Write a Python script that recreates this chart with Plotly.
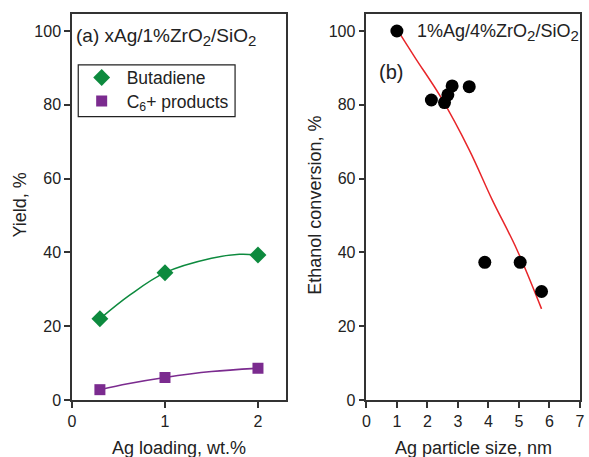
import plotly.graph_objects as go
from plotly.subplots import make_subplots

# (a) yields vs Ag loading
ag_loading = [0.3, 1.0, 2.0]
butadiene = [22.0, 34.5, 39.3]
c6_products = [2.8, 6.1, 8.6]

# smooth guide curves
butadiene_fit_x = [0.3, 0.62, 1.0, 1.5, 1.8, 2.0]
butadiene_fit_y = [22.0, 28.4, 34.5, 38.4, 39.5, 39.3]
c6_fit_x = [0.3, 0.6, 1.0, 1.5, 2.0]
c6_fit_y = [2.8, 4.4, 6.1, 7.7, 8.6]

# (b) conversion vs Ag particle size
particle_size = [1.0, 2.13, 2.56, 2.67, 2.81, 3.37, 3.88, 5.04, 5.74]
conversion = [100.0, 81.3, 80.6, 82.7, 85.1, 84.9, 37.3, 37.3, 29.4]
conv_fit_x = [1.0, 1.61, 2.43, 3.37, 4.12, 4.93, 5.74]
conv_fit_y = [100.5, 92.6, 82.2, 67.8, 54.3, 40.8, 24.7]

GREEN = "#0d8a3e"
PURPLE = "#7b2b8f"
RED = "#e8262a"
FONT = "Arial, Liberation Sans, sans-serif"
SUB = "<sub><span style='font-size:15px'>%s</span></sub>"

fig = make_subplots(rows=1, cols=2)

fig.add_trace(go.Scatter(x=butadiene_fit_x, y=butadiene_fit_y, mode="lines",
                         line=dict(color=GREEN, width=1.5, shape="spline"),
                         showlegend=False, hoverinfo="skip"), 1, 1)
fig.add_trace(go.Scatter(x=c6_fit_x, y=c6_fit_y, mode="lines",
                         line=dict(color=PURPLE, width=1.5, shape="spline"),
                         showlegend=False, hoverinfo="skip"), 1, 1)
fig.add_trace(go.Scatter(x=ag_loading, y=butadiene, mode="markers", name="Butadiene",
                         marker=dict(symbol="diamond", size=13, color=GREEN),
                         legend="legend"), 1, 1)
fig.add_trace(go.Scatter(x=ag_loading, y=c6_products, mode="markers",
                         name="C<sub>6</sub>+ products",
                         marker=dict(symbol="square", size=11, color=PURPLE),
                         legend="legend2"), 1, 1)

fig.add_trace(go.Scatter(x=conv_fit_x, y=conv_fit_y, mode="lines",
                         line=dict(color=RED, width=1.5, shape="spline"),
                         showlegend=False, hoverinfo="skip"), 1, 2)
fig.add_trace(go.Scatter(x=particle_size, y=conversion, mode="markers",
                         marker=dict(size=13, color="black"), showlegend=False), 1, 2)

axis_common = dict(showline=True, linecolor="#333", linewidth=1.5, mirror=True,
                   ticks="outside", ticklen=6, tickwidth=1.5, tickcolor="#333",
                   showgrid=False, zeroline=False,
                   tickfont=dict(family=FONT, size=16, color="#222"))

fig.update_xaxes(axis_common)
fig.update_yaxes(axis_common)
fig.update_xaxes(domain=[0, 0.421], range=[0, 2.3], tickvals=[0, 1, 2], row=1, col=1)
fig.update_xaxes(domain=[0.5795, 1], range=[0, 7], dtick=1, row=1, col=2)
fig.update_yaxes(range=[0, 104.6], dtick=20, row=1, col=1)
fig.update_yaxes(range=[0, 104.6], dtick=20, row=1, col=2)

title_font = dict(family=FONT, size=18, color="#222")
fig.add_annotation(text="Yield, %", xref="paper", yref="paper", x=-0.1014, y=0.505,
                   xanchor="center", yanchor="middle",
                   textangle=-90, showarrow=False, font=title_font)
fig.add_annotation(text="Ethanol conversion, %", xref="paper", yref="paper", x=0.4776,
                   y=0.505, xanchor="center", yanchor="middle",
                   textangle=-90, showarrow=False, font=title_font)
fig.add_annotation(text="Ag loading, wt.%", xref="paper", yref="paper", x=0.21,
                   y=-0.124, xanchor="center", yanchor="middle",
                   showarrow=False, font=title_font)
fig.add_annotation(text="Ag particle size, nm", xref="paper", yref="paper", x=0.79,
                   y=-0.124, xanchor="center", yanchor="middle",
                   showarrow=False, font=title_font)

fig.add_annotation(text="(a) xAg/1%ZrO" + SUB % "2" + "/SiO" + SUB % "2",
                   xref="x", yref="y", x=0.02, y=98.4, xanchor="left", yanchor="middle",
                   showarrow=False, font=dict(family=FONT, size=19, color="#222"))
fig.add_annotation(text="1%Ag/4%ZrO" + SUB % "2" + "/SiO" + SUB % "2",
                   xref="x2", yref="y2", x=1.58, y=99.7, xanchor="left", yanchor="middle",
                   showarrow=False, font=dict(family=FONT, size=18, color="#222"))
fig.add_annotation(text="(b)", xref="x2", yref="y2", x=0.35, y=88.9,
                   xanchor="left", yanchor="middle", showarrow=False,
                   font=dict(family=FONT, size=20, color="#222"))

# legend frame
fig.add_shape(type="rect", xref="paper", yref="paper", x0=0.0123, x1=0.321,
              y0=0.734, y1=0.868, line=dict(color="#222", width=1.2))

legend_common = dict(xanchor="left", yanchor="middle", borderwidth=0,
                     bgcolor="rgba(0,0,0,0)", itemwidth=40,
                     font=dict(family=FONT, size=17.5, color="#222"))

fig.update_layout(
    width=589, height=457,
    margin=dict(l=72, r=4, t=14, b=57),
    paper_bgcolor="white", plot_bgcolor="white",
    font=dict(family=FONT, color="#222"),
    legend=dict(legend_common, x=0.0092, y=0.835),
    legend2=dict(legend_common, x=0.0092, y=0.7746),
)

fig.write_html("out.html", config={"displayModeBar": False},
               post_script="document.body.style.margin='0';")
